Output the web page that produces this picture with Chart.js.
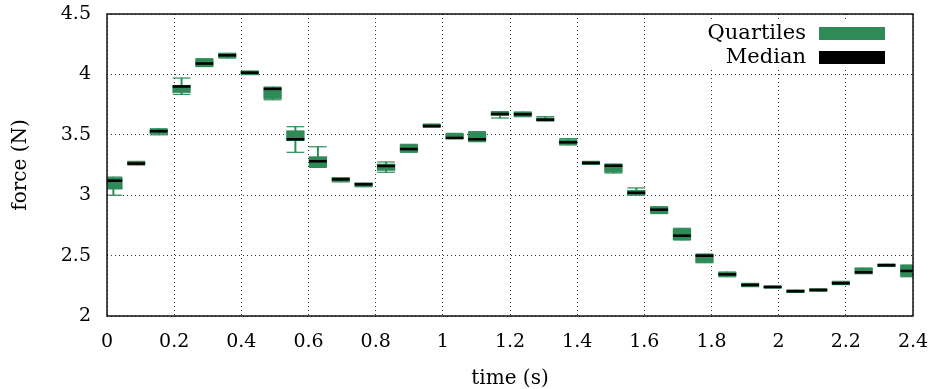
<!DOCTYPE html>
<html>
<head>
<meta charset="utf-8">
<title>force vs time</title>
<script src="https://cdn.jsdelivr.net/npm/chart.js@4.4.1/dist/chart.umd.min.js"></script>
<style>
  html, body { margin: 0; padding: 0; background: #fff; }
  #wrap { width: 933px; height: 389px; }
</style>
</head>
<body>
<div id="wrap"><canvas id="forceChart" width="933" height="389"></canvas></div>
<script>
// sample times (s)
const times = [
  0.019, 0.087, 0.154, 0.222, 0.290, 0.358, 0.425, 0.493, 0.561, 0.628,
  0.696, 0.764, 0.831, 0.899, 0.967, 1.035, 1.102, 1.170, 1.238, 1.305,
  1.373, 1.441, 1.508, 1.576, 1.644, 1.712, 1.779, 1.847, 1.915, 1.982,
  2.050, 2.118, 2.185, 2.253, 2.321, 2.389
];
// force (N): whisker ends, quartiles and median
const whiskerLow = [
  3.000, 3.250, 3.500, 3.835, 4.065, 4.135, 3.998, 3.790, 3.355, 3.230,
  3.110, 3.070, 3.190, 3.355, 3.562, 3.468, 3.443, 3.639, 3.650, 3.614,
  3.416, 3.255, 3.184, 3.000, 2.848, 2.629, 2.441, 2.325, 2.243, 2.232,
  2.195, 2.206, 2.260, 2.350, 2.410, 2.325
];
const quartileLow = [
  3.050, 3.255, 3.510, 3.850, 4.070, 4.140, 4.000, 3.800, 3.451, 3.236,
  3.115, 3.075, 3.205, 3.360, 3.565, 3.470, 3.448, 3.660, 3.655, 3.618,
  3.420, 3.256, 3.190, 3.005, 2.855, 2.632, 2.445, 2.330, 2.247, 2.234,
  2.198, 2.208, 2.262, 2.352, 2.412, 2.328
];
const medians = [
  3.120, 3.262, 3.530, 3.900, 4.090, 4.158, 4.014, 3.880, 3.463, 3.281,
  3.131, 3.090, 3.242, 3.382, 3.573, 3.474, 3.463, 3.672, 3.670, 3.625,
  3.438, 3.267, 3.244, 3.020, 2.880, 2.665, 2.499, 2.345, 2.257, 2.240,
  2.205, 2.215, 2.271, 2.362, 2.420, 2.373
];
const quartileHigh = [
  3.145, 3.275, 3.545, 3.910, 4.125, 4.172, 4.026, 3.890, 3.534, 3.319,
  3.143, 3.100, 3.258, 3.415, 3.585, 3.505, 3.520, 3.690, 3.686, 3.640,
  3.460, 3.275, 3.255, 3.040, 2.900, 2.720, 2.510, 2.360, 2.265, 2.245,
  2.213, 2.222, 2.285, 2.395, 2.428, 2.420
];
const whiskerHigh = [
  3.150, 3.280, 3.550, 3.970, 4.130, 4.175, 4.028, 3.895, 3.567, 3.401,
  3.145, 3.100, 3.275, 3.421, 3.589, 3.512, 3.526, 3.691, 3.689, 3.650,
  3.468, 3.280, 3.258, 3.060, 2.905, 2.726, 2.513, 2.364, 2.270, 2.248,
  2.215, 2.225, 2.287, 2.397, 2.430, 2.422
];

const xTickValues = [0, 0.2, 0.4, 0.6, 0.8, 1, 1.2, 1.4, 1.6, 1.8, 2, 2.2, 2.4];
const xTickLabels = ['0', '0.2', '0.4', '0.6', '0.8', '1', '1.2', '1.4', '1.6', '1.8', '2', '2.2', '2.4'];
const yTickValues = [2, 2.5, 3, 3.5, 4, 4.5];
const yTickLabels = ['2', '2.5', '3', '3.5', '4', '4.5'];

(function() {
    'use strict';

    const GREEN = '#2e8b57';
    const BOX_PX = 17.7;
    const FONT = "'DejaVu Serif', serif";

    Chart.defaults.font.family = FONT;
    Chart.defaults.font.size = 19;
    Chart.defaults.color = '#000';

    // frame around the plot and a gnuplot-style key in the top right corner
    const framePlugin = {
        id: 'frame',
        afterDatasetsDraw(chart) {
            const { ctx, chartArea: a } = chart;
            ctx.save();
            ctx.strokeStyle = '#111';
            ctx.lineWidth = 1.5;
            ctx.strokeRect(a.left, a.top, a.right - a.left, a.bottom - a.top);
            ctx.restore();
        },
        afterDraw(chart) {
            const { ctx, chartArea: a } = chart;
            const right = a.right - 28;
            ctx.save();
            ctx.fillStyle = '#fff';
            ctx.fillRect(right - 215, a.top + 8, 228, 48);
            ctx.font = '21px ' + FONT;
            ctx.textAlign = 'right';
            ctx.textBaseline = 'middle';
            ctx.fillStyle = '#000';
            ctx.fillText('Quartiles', right - 79, a.top + 20);
            ctx.fillText('Median', right - 79, a.top + 44);
            ctx.fillStyle = GREEN;
            ctx.fillRect(right - 66, a.top + 13, 66, 13);
            ctx.fillStyle = '#000';
            ctx.fillRect(right - 66, a.top + 37, 66, 13);
            ctx.restore();
        }
    };

    const ctx = document.getElementById('forceChart').getContext('2d');

    new Chart(ctx, {
        type: 'bar',
        data: {
            datasets: [{
                label: 'Median',
                type: 'scatter',
                data: times.map((t, i) => ({ x: t, y: medians[i] })),
                pointStyle: 'line',
                pointRadius: BOX_PX / 2,
                pointHoverRadius: BOX_PX / 2,
                pointBorderWidth: 2.6,
                borderColor: '#000',
                backgroundColor: '#000',
                clip: 0,
                order: 0
            }, {
                label: 'Quartiles',
                data: times.map((t, i) => ({ x: t, y: [quartileLow[i], quartileHigh[i]] })),
                backgroundColor: GREEN,
                barThickness: BOX_PX,
                grouped: false,
                clip: 0,
                order: 1
            }, {
                label: 'caps',
                type: 'scatter',
                data: times.map((t, i) => ({ x: t, y: whiskerLow[i] }))
                    .concat(times.map((t, i) => ({ x: t, y: whiskerHigh[i] }))),
                pointStyle: 'line',
                pointRadius: BOX_PX / 2,
                pointHoverRadius: BOX_PX / 2,
                pointBorderWidth: 1.2,
                borderColor: GREEN,
                backgroundColor: GREEN,
                clip: 0,
                order: 2
            }, {
                label: 'whiskers',
                data: times.map((t, i) => ({ x: t, y: [whiskerLow[i], whiskerHigh[i]] })),
                backgroundColor: GREEN,
                barThickness: 1.3,
                grouped: false,
                clip: 0,
                order: 3
            }]
        },
        options: {
            responsive: false,
            animation: false,
            events: [],
            layout: {
                padding: { top: 14, right: 20, left: 0, bottom: 0 }
            },
            plugins: {
                legend: { display: false },
                tooltip: { enabled: false }
            },
            scales: {
                x: {
                    type: 'linear',
                    min: 0,
                    max: 2.4,
                    offset: false,
                    afterFit: s => { s.height = 73; s.paddingLeft = 0; s.paddingRight = 0; },
                    afterBuildTicks: s => { s.ticks = xTickValues.map(v => ({ value: v })); },
                    ticks: {
                        padding: 15,
                        maxRotation: 0,
                        autoSkip: false,
                        callback: (v, i) => xTickLabels[i]
                    },
                    grid: {
                        offset: false,
                        drawTicks: false,
                        color: 'rgba(0, 0, 0, 0.8)',
                        lineWidth: 1
                    },
                    border: { display: false, dash: [1, 3] },
                    title: {
                        display: true,
                        text: 'time (s)',
                        font: { size: 20 },
                        padding: { top: 0, bottom: -2 }
                    }
                },
                y: {
                    min: 2,
                    max: 4.5,
                    afterFit: s => { s.width = 107; s.paddingTop = 0; s.paddingBottom = 0; },
                    afterBuildTicks: s => { s.ticks = yTickValues.map(v => ({ value: v })); },
                    ticks: {
                        padding: 16,
                        callback: (v, i) => yTickLabels[i]
                    },
                    grid: {
                        drawTicks: false,
                        color: 'rgba(0, 0, 0, 0.8)',
                        lineWidth: 1
                    },
                    border: { display: false, dash: [1, 3] },
                    title: {
                        display: true,
                        text: 'force (N)',
                        font: { size: 20 },
                        padding: { top: 9, bottom: 0 }
                    }
                }
            }
        },
        plugins: [framePlugin]
    });
})();
</script>
</body>
</html>
